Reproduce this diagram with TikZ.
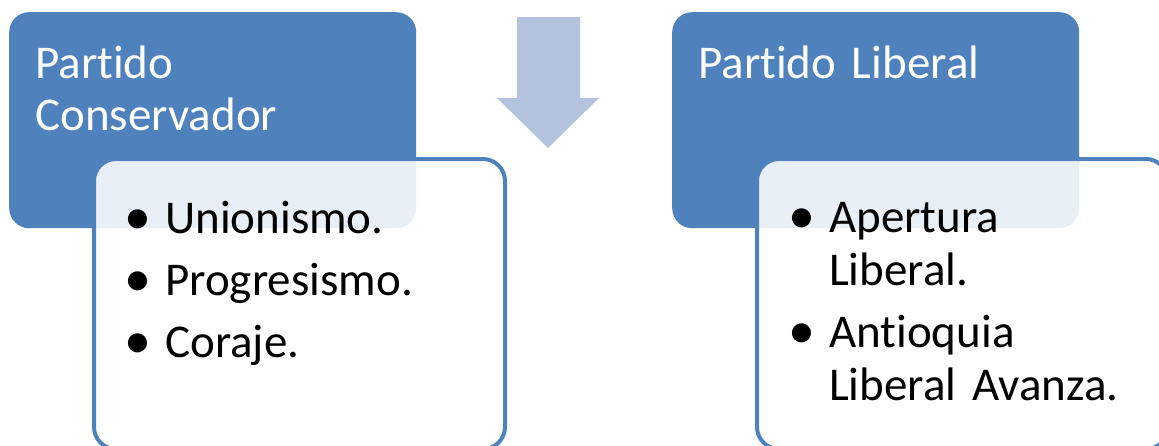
\documentclass[tikz,border=0pt]{standalone}
\usepackage{fontspec}
\setmainfont{Carlito}[Ligatures=NoCommon]
\usepackage{tikz}
\definecolor{boxBlue}{RGB}{79,129,189}
\definecolor{arrowBlue}{RGB}{179,194,221}
\newcommand{\itemDot}{\makebox[16pt]{\raisebox{-1.5pt}{\fontsize{54}{53}\selectfont\textbullet}}\hspace{19pt}}
\newcommand{\itemSkip}{\hspace*{35pt}}

\begin{document}
\begin{tikzpicture}[x=1pt, y=-1pt, inner sep=0pt]
  \useasboundingbox (0,0) rectangle (1159,445);

  \tikzstyle{blueBox}=[fill=boxBlue, rounded corners=20pt, minimum width=407pt, minimum height=216pt, anchor=north west];
  \tikzstyle{whiteBox}=[draw=boxBlue, line width=4pt, fill=white, fill opacity=0.88, rounded corners=22pt, minimum width=411pt, minimum height=290pt, anchor=north west];
  \tikzstyle{headText}=[text=white, anchor=base west, text width=380pt, align=left, font=\fontsize{47}{52}\selectfont];
  \tikzstyle{listText}=[text=black, anchor=base west, text width=380pt, align=left, font=\fontsize{47}{53}\selectfont];

  % left column
  \node[blueBox] (cons) at (9,12) {};
  \node[headText] (consHead) at (35,78) {Partido\\Conservador};
  \node[whiteBox] (consList) at (92,157) {};
  \node[listText] (consItems) at (130,233) {\itemDot Unionismo.\\[9pt]\itemDot Progresismo.\\[9pt]\itemDot Coraje.};

  % arrow in the middle
  \fill[arrowBlue] (517,17) -- (580,17) -- (580,98) -- (599,98) -- (548,148) -- (497,98) -- (517,98) -- cycle;

  % right column
  \node[blueBox] (lib) at (672,12) {};
  \node[headText] (libHead) at (698,78) {Partido Liberal};
  \node[whiteBox] (libList) at (755,157) {};
  \node[listText] (libItems) at (794,232) {\itemDot Apertura\\\itemSkip Liberal.\\[9pt]\itemDot Antioquia\\\itemSkip Liberal Avanza.};
\end{tikzpicture}
\end{document}
